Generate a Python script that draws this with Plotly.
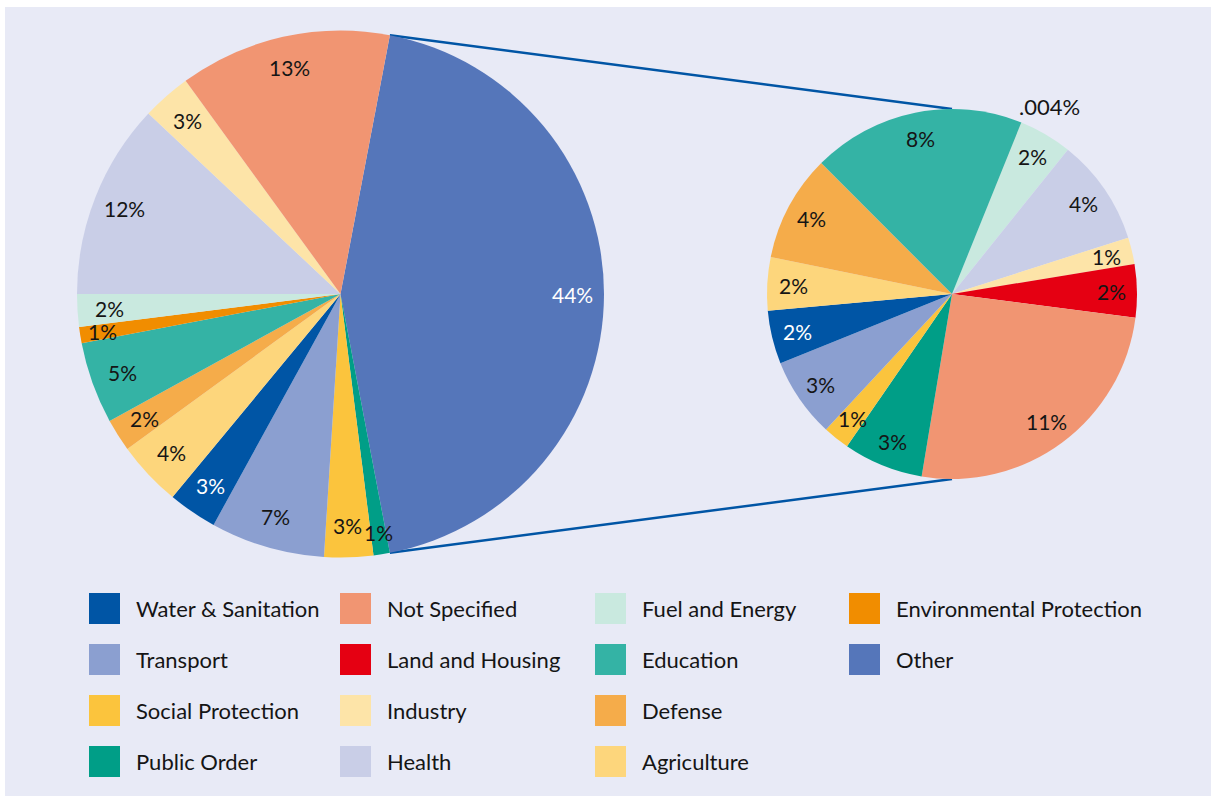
import math
import plotly.graph_objects as go

# ---- data -----------------------------------------------------------------
# Overall breakdown (percent of total), clockwise from the "Other" wedge
main_labels = ["Other", "Public Order", "Social Protection", "Transport",
               "Water & Sanitation", "Agriculture", "Defense", "Education",
               "Environmental Protection", "Fuel and Energy", "Health",
               "Industry", "Not Specified"]
main_values = [44, 1, 3, 7, 3, 4, 2, 5, 1, 2, 12, 3, 13]

# Breakdown of "Other" (percent of total), clockwise from the top
other_labels = ["Environmental Protection", "Fuel and Energy", "Health",
                "Industry", "Land and Housing", "Not Specified", "Public Order",
                "Social Protection", "Transport", "Water & Sanitation",
                "Agriculture", "Defense", "Education"]
other_values = [0.004, 2, 4, 1, 2, 11, 3, 1, 3, 2, 2, 4, 8]

# Legend layout: one list per column
legend_columns = [
    ["Water & Sanitation", "Transport", "Social Protection", "Public Order"],
    ["Not Specified", "Land and Housing", "Industry", "Health"],
    ["Fuel and Energy", "Education", "Defense", "Agriculture"],
    ["Environmental Protection", "Other"],
]

colors = {
    "Water & Sanitation": "#0055A5",
    "Not Specified": "#F19572",
    "Fuel and Energy": "#C9E9DF",
    "Environmental Protection": "#F18D00",
    "Transport": "#8B9FD0",
    "Land and Housing": "#E50012",
    "Education": "#34B3A5",
    "Other": "#5576BA",
    "Social Protection": "#FBC43D",
    "Industry": "#FDE4A8",
    "Defense": "#F5AC4A",
    "Public Order": "#009E87",
    "Health": "#C9CEE7",
    "Agriculture": "#FDD67C",
}
light_text = {"Other", "Water & Sanitation"}

# ---- geometry (pixels) ----------------------------------------------------
W, H = 1211, 796
BG = "#E8EAF6"
FONT = "Lato"
FS_LEGEND = 22
FS_SLICE = 21
TXT = "#151515"

main_c, main_r, main_rot = (340.5, 294.0), 263.5, 10.8
sub_c, sub_r, sub_rot = (952.0, 294.0), 185.0, 22.0


def px(x):
    return x / W


def py(y):
    return 1 - y / H


def domain(c, r):
    return dict(x=[px(c[0] - r), px(c[0] + r)], y=[py(c[1] + r), py(c[1] - r)])


def point(c, r, ang):
    a = math.radians(ang)
    return c[0] + r * math.sin(a), c[1] - r * math.cos(a)


def fmt(v):
    s = f"{v:g}"
    return (s.lstrip("0") if v < 1 else s) + "%"


fig = go.Figure()
for labels, values, c, r, rot in [
    (main_labels, main_values, main_c, main_r, main_rot),
    (other_labels, other_values, sub_c, sub_r, sub_rot),
]:
    fig.add_trace(go.Pie(
        labels=labels, values=values, sort=False, direction="clockwise",
        rotation=rot, domain=domain(c, r), textinfo="none", hoverinfo="label+value",
        marker=dict(colors=[colors[l] for l in labels], line=dict(width=0)),
        showlegend=False,
    ))

annotations = []
# white frame strips along the top and left edges
shapes = [
    dict(type="rect", xref="paper", yref="paper", x0=0, x1=1, y0=py(7), y1=1,
         fillcolor="white", line=dict(width=0), layer="below"),
    dict(type="rect", xref="paper", yref="paper", x0=0, x1=px(5), y0=0, y1=1,
         fillcolor="white", line=dict(width=0), layer="below"),
]


def slice_labels(labels, values, c, r, rot, k, thin_boost=0.0):
    total = sum(values)
    cum = 0.0
    for lab, v in zip(labels, values):
        mid = rot + (cum + v / 2) / total * 360
        cum += v
        share = v / total
        if share < 0.005:
            # hairline wedge: label sits just outside the rim
            x, y = point(c, r * 1.0, mid)
            annotations.append(dict(x=px(x - 4), y=py(y), xref="paper", yref="paper",
                                    text=fmt(v), showarrow=False, xanchor="left",
                                    yanchor="bottom",
                                    font=dict(family=FONT, size=FS_SLICE + 1, color=TXT)))
        else:
            kk = k + (thin_boost if share <= 0.011 else 0.0)
            x, y = point(c, r * kk, mid)
            col = "white" if lab in light_text else TXT
            annotations.append(dict(x=px(x), y=py(y), xref="paper", yref="paper",
                                    text=fmt(v), showarrow=False,
                                    xanchor="center", yanchor="middle",
                                    font=dict(family=FONT, size=FS_SLICE, color=col)))


slice_labels(main_labels, main_values, main_c, main_r, main_rot, 0.88, thin_boost=0.035)
slice_labels(other_labels, other_values, sub_c, sub_r, sub_rot, 0.86)

# Connector lines from the edges of the "Other" wedge to the second pie
other_share = main_values[main_labels.index("Other")] / sum(main_values)
p_start = point(main_c, main_r, main_rot)
p_end = point(main_c, main_r, main_rot + other_share * 360)
for p, q in [(p_start, point(sub_c, sub_r, 0)), (p_end, point(sub_c, sub_r, 180))]:
    shapes.append(dict(type="line", xref="paper", yref="paper",
                       x0=px(p[0]), y0=py(p[1]), x1=px(q[0]), y1=py(q[1]),
                       line=dict(color="#0055A5", width=2.5), layer="below"))

# Legend: coloured squares with labels, column by column
col_x = [89, 340, 595, 849]
row_y = [593, 644, 695, 746]
sq = 31
for cx, names in zip(col_x, legend_columns):
    for ry, name in zip(row_y, names):
        shapes.append(dict(type="rect", xref="paper", yref="paper",
                           x0=px(cx), x1=px(cx + sq), y0=py(ry + sq), y1=py(ry),
                           fillcolor=colors[name], line=dict(width=0)))
        annotations.append(dict(x=px(cx + 45), y=py(ry + sq / 2), xref="paper",
                                yref="paper", text=name, showarrow=False,
                                xanchor="left", yanchor="middle",
                                font=dict(family=FONT, size=FS_LEGEND, color=TXT)))

fig.update_layout(
    width=W, height=H, margin=dict(l=0, r=0, t=0, b=0),
    paper_bgcolor=BG, shapes=shapes, annotations=annotations,
    font=dict(family=FONT, size=FS_LEGEND),
)
fig.write_html("out.html")
